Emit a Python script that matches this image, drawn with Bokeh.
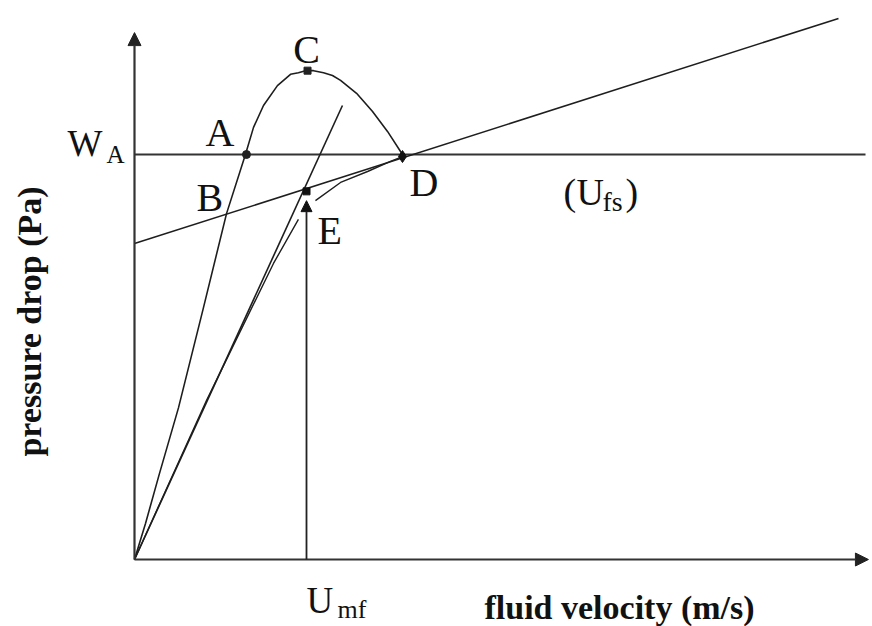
import math
from bokeh.plotting import figure
from bokeh.models import Range1d, Arrow, NormalHead
from bokeh.core.properties import value
from bokeh.embed import file_html
from bokeh.resources import INLINE

# Units: velocity in multiples of U_mf, pressure drop in multiples of W_A
# Fluidization curve with overshoot: O -> A -> C -> D
hump_v = [0.0, 0.064, 0.145, 0.256, 0.401, 0.535, 0.645, 0.692, 0.750, 0.831,
          0.907, 0.953, 0.994, 1.041, 1.099, 1.151, 1.198, 1.291, 1.384, 1.471, 1.558]
hump_dp = [0.0, 0.089, 0.212, 0.375, 0.622, 0.854, 1.000, 1.067, 1.121, 1.170,
           1.198, 1.202, 1.207, 1.207, 1.202, 1.195, 1.183, 1.151, 1.106, 1.057, 1.000]

# Defluidization curve (below E and along to D)
defl_v1 = [0.0, 0.419, 0.808, 0.953]
defl_dp1 = [0.0, 0.393, 0.731, 0.840]
defl_v2 = [1.052, 1.198, 1.355, 1.488, 1.558]
defl_dp2 = [0.886, 0.931, 0.958, 0.983, 0.995]

# Straight line through origin and E
ls_v = [0.0, 1.209]
ls_dp = [0.0, 1.121]

# Line through B, E, D
bd_v = [0.0, 4.093]
bd_dp = [0.780, 1.336]

# Bed weight level W_A
wa_v = [0.0, 4.25]
wa_dp = [1.0, 1.0]

# Key points
key_names = ["A", "C", "D", "E"]
key_v = [0.651, 1.006, 1.558, 1.0]
key_dp = [1.0, 1.207, 0.995, 0.909]

U_MF = 1.0
U_MF_ARROW_TOP = 0.886
X_AXIS_END = 4.267
Y_AXIS_END = 1.301


def X(sx):
    return (sx - 134) / 172.0


def Y(sy):
    return (559 - sy) / 405.0


p = figure(width=872, height=626,
           x_range=Range1d(X(0), X(872)), y_range=Range1d(Y(626), Y(0)),
           x_axis_type=None, y_axis_type=None,
           output_backend="svg", toolbar_location=None, min_border=0)
p.grid.visible = False
p.outline_line_color = None
p.background_fill_color = "white"
p.border_fill_color = "white"

LC = "#1e1e1e"

# axes with arrowheads
p.add_layout(Arrow(end=NormalHead(size=13, fill_color="#222222", line_color="#222222"),
                   x_start=0, y_start=0, x_end=0, y_end=Y_AXIS_END,
                   line_width=2.2, line_color="#333333"))
p.add_layout(Arrow(end=NormalHead(size=13, fill_color="#222222", line_color="#222222"),
                   x_start=0, y_start=0, x_end=X_AXIS_END, y_end=0,
                   line_width=2.2, line_color="#333333"))

# W_A horizontal level
p.line(wa_v, wa_dp, line_color="#333333", line_width=2.0)

# curves
p.line(hump_v, hump_dp, line_color=LC, line_width=1.6, line_join="round")
p.line(ls_v, ls_dp, line_color=LC, line_width=1.6)
p.line(bd_v, bd_dp, line_color=LC, line_width=1.6)
p.line(defl_v1, defl_dp1, line_color=LC, line_width=1.4, line_join="round")
p.line(defl_v2, defl_dp2, line_color=LC, line_width=1.4, line_join="round")

# U_mf arrow
p.add_layout(Arrow(end=NormalHead(size=11, fill_color="#111111", line_color="#111111"),
                   x_start=U_MF, y_start=0, x_end=U_MF, y_end=U_MF_ARROW_TOP,
                   line_width=1.8, line_color="#222222"))

# markers
p.scatter([key_v[0]], [key_dp[0]], marker="circle", size=8, fill_color="#222222", line_color="#222222")
p.scatter([key_v[1]], [key_dp[1]], marker="square", size=7, fill_color="#222222", line_color="#222222")
p.scatter([key_v[2]], [key_dp[2]], marker="diamond", size=12, fill_color="#111111", line_color="#111111")
p.scatter([key_v[3]], [key_dp[3]], marker="square", size=7, fill_color="#111111", line_color="#111111")

SERIF = value("Liberation Serif")
MID = 0.3375  # distance from alphabetic baseline to middle of em box, in em


def txt(sx, sy, s, size, align="left", bold=False):
    # sx, sy: screen position of the left (or centre) of the text on its baseline
    p.text(x=[X(sx)], y=[Y(sy - MID * size)], text=[s], text_font=SERIF,
           text_font_size=f"{size}px", text_align=align,
           text_baseline="middle", text_color="#111111",
           text_font_style="bold" if bold else "normal")


# point labels
txt(306, 62, "C", 40, align="center")
txt(205, 145, "A", 40)
txt(196, 210, "B", 40)
txt(409, 195, "D", 40)
txt(317, 243, "E", 40)

# W_A
txt(67, 155, "W", 37)
txt(106, 162, "A", 25)

# U_mf
txt(306, 612, "U", 37)
txt(337, 618, "mf", 26)

# (U_fs)
txt(563, 204, "(", 38)
txt(576, 204, "U", 38)
txt(602, 210, "fs", 28)
txt(625, 204, ")", 38)

# axis titles
txt(484, 618, "fluid velocity (m/s)", 34, bold=True)
YL = 34
p.text(x=[X(40 - MID * YL)], y=[Y(321)], text=["pressure drop (Pa)"], text_font=SERIF,
       text_font_size=f"{YL}px", text_align="center", text_baseline="middle",
       text_color="#111111", text_font_style="bold", angle=math.pi / 2)

open("out.html", "w").write(file_html(p, INLINE))
